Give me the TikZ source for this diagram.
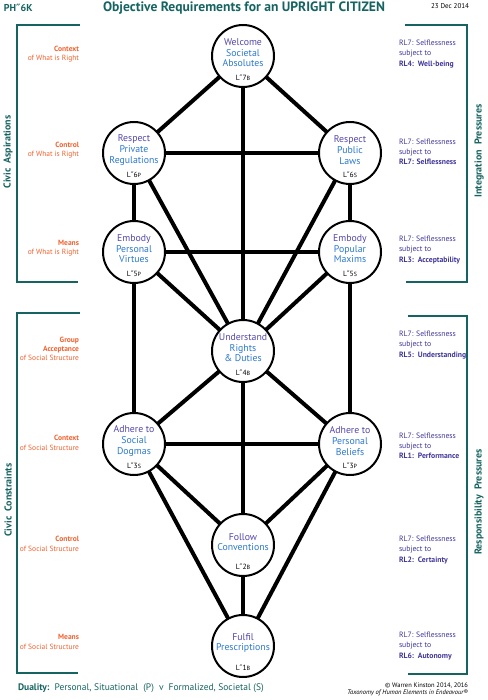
\documentclass[tikz,border=0pt]{standalone}
\usepackage{fontspec}
\setmainfont{PT Sans}
\newfontfamily\primefont{DejaVu Sans}
\usetikzlibrary{calc}
\usetikzlibrary{positioning}

\definecolor{deepteal}{RGB}{22,100,98}
\definecolor{rustorange}{RGB}{240,98,48}
\definecolor{firstword}{RGB}{84,72,172}
\definecolor{restword}{RGB}{44,122,206}
\definecolor{pressure}{RGB}{64,54,152}

\newcommand{\DblPrime}{{\primefont\char"2033\relax}}
\newcommand{\LevTag}[2]{L\DblPrime#1{\fontsize{6}{6}\selectfont #2}}

\tikzset{
    reqnode/.style = {circle, draw, line width = 2pt, fill = white, minimum size = 62pt, inner sep = 0pt},
    reqtext/.style = {align = center, text = restword, inner sep = 0pt, font = \fontsize{9.8}{10.6}\selectfont},
    levtext/.style = {inner sep = 0pt, font = \fontsize{7.5}{8}\selectfont},
    aimtext/.style = {align = right, text = rustorange, inner sep = 0pt, font = \fontsize{7.5}{9.3}\selectfont},
    presstext/.style = {align = left, text = pressure, inner sep = 0pt, font = \fontsize{7.7}{10.3}\selectfont},
    sidetext/.style = {rotate = 90, text = deepteal, inner sep = 0pt, font = \fontsize{10}{12}\bfseries\selectfont},
    bracket/.style = {deepteal, line width = 2pt},
}

\begin{document}
\begin{tikzpicture}[x = 1pt, y = -1pt, line width = 4pt]

    \useasboundingbox (0,0) rectangle (487,700);

    \def\Lx{134}
    \def\Cx{243}
    \def\Rx{350}

    % header
    \node[anchor = west, text = deepteal, inner sep = 0pt, font = \fontsize{10}{12}\bfseries\selectfont] (code) at (2,8) {PH\DblPrime 6K};
    \node[text = deepteal, inner sep = 0pt, font = \fontsize{13.6}{15}\bfseries\selectfont] (title) at (244,8) {Objective Requirements for an UPRIGHT CITIZEN};
    \node[anchor = east, inner sep = 0pt, font = \fontsize{7}{8}\selectfont] (date) at (471,6) {23 Dec 2014};

    % the ten requirements
    \foreach \ID/\X/\Y/\ONE/\REST/\NUM/\SIDE in {
            7B/\Cx/56/Welcome/{Societal\\Absolutes}/7/B,
            6P/\Lx/153/Respect/{Private\\Regulations}/6/P,
            6S/\Rx/153/Respect/{Public\\Laws}/6/S,
            5P/\Lx/252/Embody/{Personal\\Virtues}/5/P,
            5S/\Rx/252/Embody/{Popular\\Maxims}/5/S,
            4B/\Cx/351/Understand/{Rights\\\& Duties}/4/B,
            3S/\Lx/444/Adhere to/{Social\\Dogmas}/3/S,
            3P/\Rx/444/Adhere to/{Personal\\Beliefs}/3/P,
            2B/\Cx/545/Follow/{Conventions}/2/B,
            1B/\Cx/646/Fulfil/{Prescriptions}/1/B}{
        \node[reqnode] (L\ID) at (\X,\Y) {};
        \node[reqtext] (L\ID-txt) at ([yshift = 3pt]L\ID.center) {{\color{firstword}\ONE}\\\REST};
        \node[levtext] (L\ID-lev) at ([yshift = -21.5pt]L\ID.center) {\LevTag{\NUM}{\SIDE}};
    }

    \foreach \A/\B in {7B/6P, 7B/6S, 7B/4B, 6P/6S, 6P/5P, 6S/5S, 6P/4B, 6S/4B,
                       5P/5S, 5P/4B, 5S/4B, 5P/3S, 5S/3P, 4B/3S, 4B/3P, 4B/2B,
                       3S/3P, 3S/2B, 3P/2B, 3S/1B, 3P/1B, 2B/1B}
        \draw[shorten <= -1.5pt, shorten >= -1.5pt] (L\A) -- (L\B);

    % brackets and side headings
    \draw[bracket] (80,25) -| (17,282) -- (78,282);
    \draw[bracket] (80,313) -| (17,673) -- (78,673);
    \draw[bracket] (405,25) -| (467,282) -- (406,282);
    \draw[bracket] (408,316) -| (467,674) -- (408,674);

    \node[sidetext] (aspire) at (8,152) {Civic\ \ Aspirations};
    \node[sidetext] (constrain) at (8,500) {Civic\ \ Constraints};
    \node[sidetext] (integrate) at (479,151) {Integration\ \ Pressures};
    \node[sidetext] (respond) at (479,502) {Responsibility\ \ Pressures};

    \foreach \Y/\HEAD/\TAIL in {54/{\textbf{Context}}/What is Right, 150/{\textbf{Control}}/What is Right,
                                248/{\textbf{Means}}/What is Right,
                                349/{\textbf{Group}\\\textbf{Acceptance}}/Social Structure,
                                443/{\textbf{Context}}/Social Structure,
                                544/{\textbf{Control}}/Social Structure, 642/{\textbf{Means}}/Social Structure}{
        \node[aimtext, anchor = east] (aim-\Y) at (81,\Y) {\HEAD\\of \TAIL};
    }

    \foreach \Y/\RL in {54/RL4:\ \ Well-being, 152/RL7: Selflessness, 250/RL3:\ \ Acceptability,
                        345/RL5:\ \ Understanding, 446/RL1:\ \ Performance,
                        550/RL2:\ \ Certainty, 646/RL6:\ \ Autonomy}{
        \node[presstext, anchor = west] (press-\Y) at (397,\Y) {RL7: Selflessness\\subject to\\\textbf{\RL}};
    }

    % footer
    \node[anchor = west, text = deepteal, inner sep = 0pt, font = \fontsize{9.5}{11}\selectfont] (duality) at (16,688)
        {\textbf{Duality:}\ \ Personal, Situational\ \ (P)\ \ v\ \ Formalized, Societal (S)};
    \node[anchor = east, align = right, inner sep = 0pt, font = \fontsize{6.5}{7}\selectfont] (credit) at (470,689)
        {© Warren Kinston 2014, 2016\\\textit{Taxonomy of Human Elements in Endeavour®}};

\end{tikzpicture}
\end{document}
